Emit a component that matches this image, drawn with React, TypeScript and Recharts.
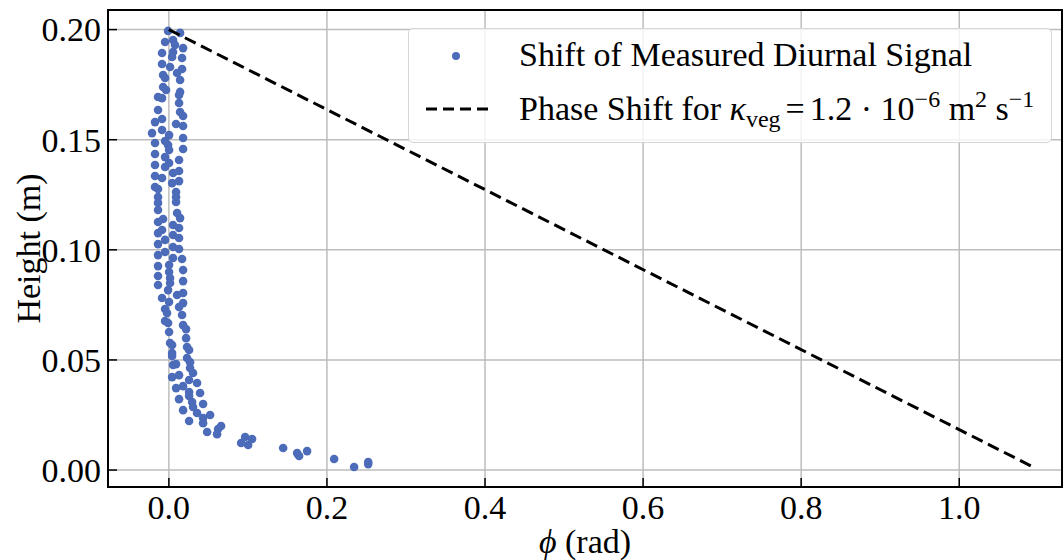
import { CartesianGrid, Legend, ReferenceArea, Scatter, ScatterChart, XAxis, YAxis } from "recharts"

const serif = "'Liberation Serif', 'Times New Roman', serif"
const dotColor = "#4C6BB9"
const fs = 34

// measured diurnal phase shift [phi (rad), height (m)]
const measured: [number, number][] = [
  [-0.001, 0.1994], [0.0142, 0.1985], [0.0053, 0.1953], [-0.0048, 0.1944], [0.0078, 0.193],
  [0.018, 0.1916], [-0.0086, 0.1894], [0.0053, 0.1898], [0.0041, 0.1876], [0.0167, 0.1871],
  [-0.0086, 0.1844], [0.0015, 0.183], [0.0167, 0.1821], [-0.0073, 0.1794], [-0.0048, 0.178],
  [0.0104, 0.1803], [0.0142, 0.1771], [-0.0073, 0.1739], [-0.0035, 0.1726], [0.0142, 0.1717],
  [0.0129, 0.1703], [-0.0137, 0.1694], [-0.0086, 0.1689], [0.0129, 0.1667], [-0.0137, 0.1635],
  [0.0142, 0.1626], [0.018, 0.1608], [-0.0175, 0.158], [-0.0086, 0.1594], [0.0091, 0.1571],
  [0.018, 0.1562], [-0.0213, 0.153], [-0.0086, 0.1544], [0.0003, 0.1521], [0.018, 0.1508],
  [-0.0048, 0.1494], [-0.0175, 0.1485], [-0.001, 0.1476], [0.0003, 0.1453], [0.018, 0.1458],
  [-0.0175, 0.1435], [-0.0048, 0.1421], [0.0003, 0.1394], [0.0129, 0.1408], [-0.0175, 0.1385],
  [-0.0048, 0.1376], [0.0053, 0.1349], [0.0129, 0.1358], [-0.0175, 0.1335], [-0.0086, 0.1326],
  [0.0129, 0.1312], [0.0041, 0.1303], [-0.0175, 0.1285], [-0.0137, 0.1276], [0.0091, 0.1262],
  [0.0091, 0.124], [-0.0137, 0.124], [0.0091, 0.1217], [-0.0137, 0.1213], [-0.0137, 0.1181],
  [0.0104, 0.1167], [0.0142, 0.1144], [-0.0073, 0.114], [-0.0137, 0.1126], [0.0053, 0.1113],
  [0.0129, 0.1099], [-0.0086, 0.109], [-0.0137, 0.1076], [0.0053, 0.1067], [0.0129, 0.1054],
  [-0.0048, 0.1045], [-0.0137, 0.1026], [0.0053, 0.1013], [0.0129, 0.1004], [-0.0048, 0.099],
  [-0.0137, 0.0976], [0.0053, 0.0963], [0.0167, 0.0958], [0.0003, 0.0931], [-0.0137, 0.0926],
  [0.018, 0.0908], [0.0003, 0.0899], [-0.0137, 0.0881], [0.0015, 0.0872], [0.018, 0.0858],
  [-0.0137, 0.084], [0.0015, 0.0849], [-0.001, 0.0817], [0.0104, 0.0795], [0.018, 0.0804],
  [-0.0086, 0.0781], [0.0003, 0.0763], [0.018, 0.0758], [0.0129, 0.074], [-0.0048, 0.0731],
  [-0.0023, 0.0713], [0.0167, 0.0704], [-0.0048, 0.0677], [-0.001, 0.0668], [0.018, 0.0658],
  [0.0218, 0.064], [0.0003, 0.0627], [0.0218, 0.0599], [0.0015, 0.0577], [0.0041, 0.0568],
  [0.023, 0.0559], [0.0256, 0.0545], [0.0041, 0.0531], [0.0041, 0.0518], [0.023, 0.0509],
  [0.0268, 0.049], [0.0053, 0.0477], [0.0268, 0.0463], [0.0091, 0.0481], [0.0041, 0.0422],
  [0.0129, 0.0431], [0.0306, 0.0441], [0.0256, 0.0409], [0.0357, 0.0395], [0.0091, 0.0372],
  [0.018, 0.0381], [0.0256, 0.0354], [0.0395, 0.035], [0.0256, 0.0336], [0.0294, 0.0309],
  [0.0129, 0.0322], [0.0306, 0.0286], [0.0433, 0.03], [0.0357, 0.0259], [0.018, 0.0272],
  [0.0433, 0.0236], [0.0522, 0.025], [0.0256, 0.0223], [0.0433, 0.0213], [0.0661, 0.02],
  [0.0623, 0.0186], [0.0484, 0.0173], [0.061, 0.0163], [0.0965, 0.015], [0.1053, 0.0141],
  [0.0914, 0.0123], [0.1003, 0.0114], [0.1446, 0.01], [0.1749, 0.0086], [0.1623, 0.0077],
  [0.1648, 0.0064], [0.2091, 0.005], [0.2522, 0.0036], [0.2522, 0.0027], [0.2344, 0.0014],
]

// model line for kappa_veg = 1.2e-6 m2/s
const modelPhase = [0, 1.0955]
const modelHeight = [0.2, 0.001]

const phiTicks = [0, 0.2, 0.4, 0.6, 0.8, 1.0]
const heightTicks = [0, 0.05, 0.1, 0.15, 0.2]
const phiDomain = [-0.077, 1.13]
const heightDomain = [-0.0077, 0.2089]

const measuredData = measured.map(([phi, h]) => ({ phi, h }))
const modelData = modelPhase.map((phi, i) => ({ phi, h: modelHeight[i] }))

const XTick = ({ x, y, payload }: any) => (
  <g>
    <line x1={x} y1={y} x2={x} y2={y - 9} stroke="#000" strokeWidth={1.5} />
    <text x={x} y={y + 32} textAnchor="middle" fontFamily={serif} fontSize={fs} fill="#000">
      {payload.value.toFixed(1)}
    </text>
  </g>
)

const YTick = ({ x, y, payload }: any) => (
  <g>
    <line x1={x} y1={y} x2={x + 9} y2={y} stroke="#000" strokeWidth={1.5} />
    <text x={x - 7} y={y} dy="0.35em" textAnchor="end" fontFamily={serif} fontSize={fs} fill="#000">
      {payload.value.toFixed(2)}
    </text>
  </g>
)

const YTitle = ({ viewBox }: any) => {
  const cx = viewBox.x + 28
  const cy = viewBox.y + viewBox.height / 2
  return (
    <text x={cx} y={cy} transform={`rotate(-90 ${cx} ${cy})`} textAnchor="middle" dy="0.35em"
      fontFamily={serif} fontSize={fs} fill="#000">
      Height (m)
    </text>
  )
}

const XTitle = ({ viewBox }: any) => {
  const cx = viewBox.x + viewBox.width / 2
  const cy = viewBox.y + 66
  return (
    <text x={cx} y={cy} textAnchor="middle" fontFamily={serif} fontSize={fs} fill="#000">
      <tspan fontStyle="italic">ϕ</tspan> (rad)
    </text>
  )
}

const Dot = ({ cx, cy }: any) => <circle cx={cx} cy={cy} r={4.3} fill={dotColor} />

const sup = { fontSize: 24, position: "relative" as const, top: -13 }

const LegendBox = () => (
  <div style={{
    position: "relative", width: 644, height: 115, boxSizing: "border-box",
    background: "rgba(255,255,255,0.8)", border: "1px solid #d6d6d6", borderRadius: 5,
    fontFamily: serif, fontSize: fs, color: "#000", lineHeight: 1,
  }}>
    <svg width={90} height={115} style={{ position: "absolute", left: 0, top: 0 }}>
      <circle cx={47} cy={27} r={4} fill={dotColor} />
      <line x1={17} y1={80} x2={82} y2={80} stroke="#000" strokeWidth={3} strokeDasharray="11 6" />
    </svg>
    <div style={{ position: "absolute", left: 110, top: 9, whiteSpace: "nowrap" }}>
      Shift of Measured Diurnal Signal
    </div>
    <div style={{ position: "absolute", left: 110, top: 63, whiteSpace: "nowrap" }}>
      Phase Shift for <i>κ</i><span style={{ fontSize: 24, position: "relative", top: 7 }}>veg</span>
      <span style={{ margin: "0 5px" }}>=</span>1.2 · 10
      <span style={sup}>−6</span>{" "}m
      <span style={sup}>2</span> s
      <span style={sup}>−1</span>
    </div>
  </div>
)

export default function App() {
  return (
    <div style={{ position: "absolute", left: 0, top: 0, background: "#fff" }}>
      <ScatterChart width={1064} height={560} margin={{ top: 10, right: 2, bottom: 0, left: 0 }}>
        <CartesianGrid stroke="#bdbdbd" strokeWidth={1.5} />
        <XAxis type="number" dataKey="phi" domain={phiDomain} ticks={phiTicks} allowDataOverflow
          height={73} axisLine={false} tickLine={false} tickSize={0} tickMargin={0}
          tick={<XTick />} label={<XTitle />} />
        <YAxis type="number" dataKey="h" domain={heightDomain} ticks={heightTicks} allowDataOverflow
          width={108} axisLine={false} tickLine={false} tickSize={0} tickMargin={0}
          tick={<YTick />} label={<YTitle />} />
        <Scatter data={measuredData} shape={<Dot />} isAnimationActive={false} />
        <Scatter data={modelData} shape={() => <g />} isAnimationActive={false}
          line={{ stroke: "#000", strokeWidth: 3, strokeDasharray: "12 6" }} />
        <ReferenceArea x1={phiDomain[0]} x2={phiDomain[1]} y1={heightDomain[0]} y2={heightDomain[1]}
          fill="none" stroke="#000" strokeWidth={2} fillOpacity={0} />
        <Legend layout="horizontal" verticalAlign="middle" align="center" content={<LegendBox />}
          wrapperStyle={{ left: 408, top: 28, width: 644, height: 115 }} />
      </ScatterChart>
    </div>
  )
}
